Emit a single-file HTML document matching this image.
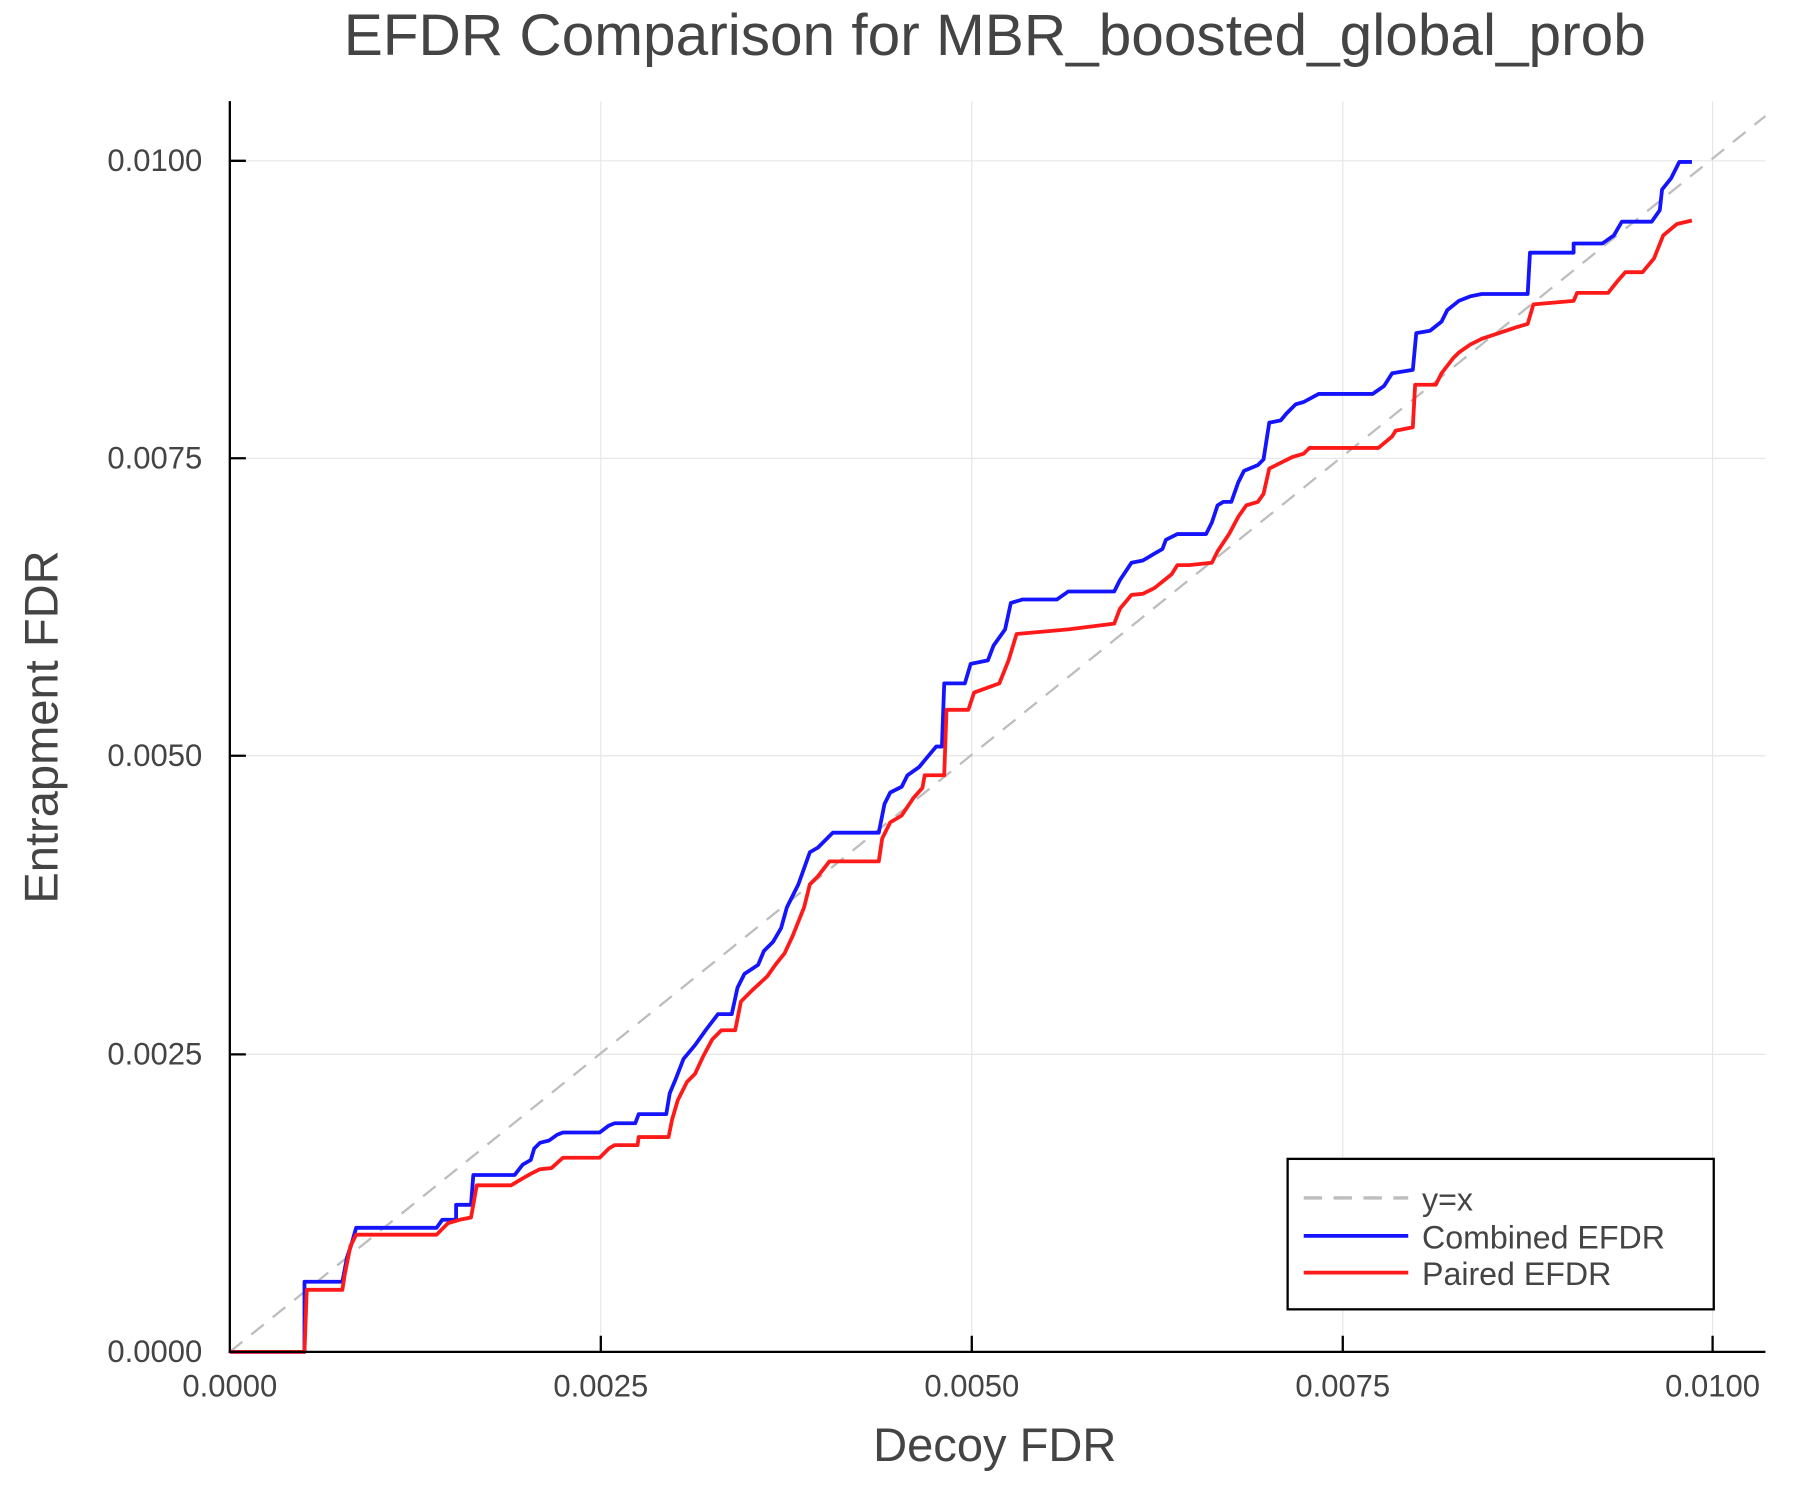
<!DOCTYPE html>
<html><head><style>body{margin:0;background:#fff}svg{display:block}</style></head><body>
<svg width="1800" height="1500" viewBox="0 0 1567 1306" xmlns="http://www.w3.org/2000/svg" font-family="Liberation Sans, sans-serif">
<rect width="1567" height="1306" fill="#fff"/>
<g stroke="#e6e6e6" stroke-width="1">
<line x1="523" y1="88" x2="523" y2="1177"/><line x1="846" y1="88" x2="846" y2="1177"/><line x1="1169" y1="88" x2="1169" y2="1177"/><line x1="1491" y1="88" x2="1491" y2="1177"/>
<line x1="200" y1="140" x2="1537" y2="140"/><line x1="200" y1="399" x2="1537" y2="399"/><line x1="200" y1="658" x2="1537" y2="658"/><line x1="200" y1="918" x2="1537" y2="918"/>
</g>
<line x1="200" y1="1177" x2="1537" y2="101" stroke="#bdbdbd" stroke-width="2" stroke-dasharray="14,10"/>
<polyline fill="none" stroke="#1414ff" stroke-width="3.3" stroke-linejoin="round" points="200,1177 265,1177 265,1116 298,1116 302,1095 306,1083 310,1069 380,1069 385,1062 397,1062 397,1049 410,1049 412,1023 448,1023 455,1014 462,1010 465,1000 470,995 478,993 485,988 490,986 522,986 530,980 535,978 553,978 556,970 580,970 583,952 588,940 595,922 605,910 615,896 625,883 637,883 642,860 648,848 660,840 665,828 673,820 680,808 685,790 695,770 705,742 712,738 718,732 725,725 765,725 770,700 775,690 785,685 790,675 800,668 805,662 815,650 820,650 822,595 840,595 845,578 860,575 865,562 875,548 880,525 890,522 920,522 930,515 970,515 975,505 985,490 995,488 1005,482 1012,478 1015,470 1025,465 1050,465 1055,455 1060,440 1065,437 1072,437 1078,420 1083,410 1095,405 1100,400 1105,368 1115,366 1120,360 1128,352 1135,350 1148,343 1195,343 1205,336 1212,325 1230,322 1233,290 1245,288 1255,280 1260,270 1270,262 1280,258 1290,256 1330,256 1332,220 1370,220 1370,212 1395,212 1405,205 1412,193 1438,193 1445,183 1447,165 1455,155 1462,141 1473,141"/>
<polyline fill="none" stroke="#ff1a1a" stroke-width="3.3" stroke-linejoin="round" points="200,1177 265,1177 267,1123 298,1123 300,1110 305,1085 310,1075 380,1075 390,1065 400,1062 410,1060 415,1032 445,1032 455,1026 462,1022 470,1018 480,1017 490,1008 522,1008 530,1000 535,997 555,997 556,990 582,990 585,975 590,958 598,942 605,935 612,920 620,905 628,897 640,897 645,872 655,862 668,850 675,840 683,830 690,815 700,790 705,770 712,763 722,750 765,750 768,730 775,716 785,710 795,695 803,686 805,675 822,675 824,618 843,618 848,603 870,595 878,575 885,552 930,548 970,543 975,530 985,518 995,517 1005,512 1010,508 1020,500 1025,492 1035,492 1055,490 1060,480 1070,465 1078,450 1085,440 1095,437 1100,430 1105,408 1115,403 1125,398 1135,395 1140,390 1200,390 1212,380 1215,375 1230,372 1232,335 1250,335 1255,325 1265,312 1270,307 1280,300 1290,295 1320,285 1330,282 1335,265 1370,262 1373,255 1400,255 1408,245 1415,237 1430,237 1440,225 1448,205 1460,195 1473,192"/>
<g stroke="#000" stroke-width="2">
<line x1="200" y1="88" x2="200" y2="1178"/><line x1="199" y1="1177" x2="1537" y2="1177"/>
<line x1="523" y1="1177" x2="523" y2="1163"/><line x1="846" y1="1177" x2="846" y2="1163"/><line x1="1169" y1="1177" x2="1169" y2="1163"/><line x1="1491" y1="1177" x2="1491" y2="1163"/>
<line x1="200" y1="140" x2="214" y2="140"/><line x1="200" y1="399" x2="214" y2="399"/><line x1="200" y1="658" x2="214" y2="658"/><line x1="200" y1="918" x2="214" y2="918"/>
</g>
<g fill="#444" font-size="27">
<g text-anchor="end"><text x="176" y="149">0.0100</text><text x="176" y="408">0.0075</text><text x="176" y="667">0.0050</text><text x="176" y="927">0.0025</text><text x="176" y="1186">0.0000</text></g>
<g text-anchor="middle"><text x="200" y="1216">0.0000</text><text x="523" y="1216">0.0025</text><text x="846" y="1216">0.0050</text><text x="1169" y="1216">0.0075</text><text x="1491" y="1216">0.0100</text></g>
<text x="866" y="1272" font-size="41" text-anchor="middle">Decoy FDR</text>
<text transform="translate(50,633) rotate(-90)" font-size="41" text-anchor="middle">Entrapment FDR</text>
<text x="866" y="48" font-size="51" text-anchor="middle">EFDR Comparison for MBR_boosted_global_prob</text>
</g>
<rect x="1121" y="1009" width="371" height="131" fill="#fff" stroke="#000" stroke-width="2"/>
<line x1="1135" y1="1043" x2="1226" y2="1043" stroke="#bdbdbd" stroke-width="3" stroke-dasharray="16,10"/>
<line x1="1135" y1="1076" x2="1226" y2="1076" stroke="#1414ff" stroke-width="3.3"/>
<line x1="1135" y1="1108" x2="1226" y2="1108" stroke="#ff1a1a" stroke-width="3.3"/>
<g fill="#444" font-size="28"><text x="1238" y="1054">y=x</text><text x="1238" y="1087">Combined EFDR</text><text x="1238" y="1119">Paired EFDR</text></g>
</svg>
</body></html>
